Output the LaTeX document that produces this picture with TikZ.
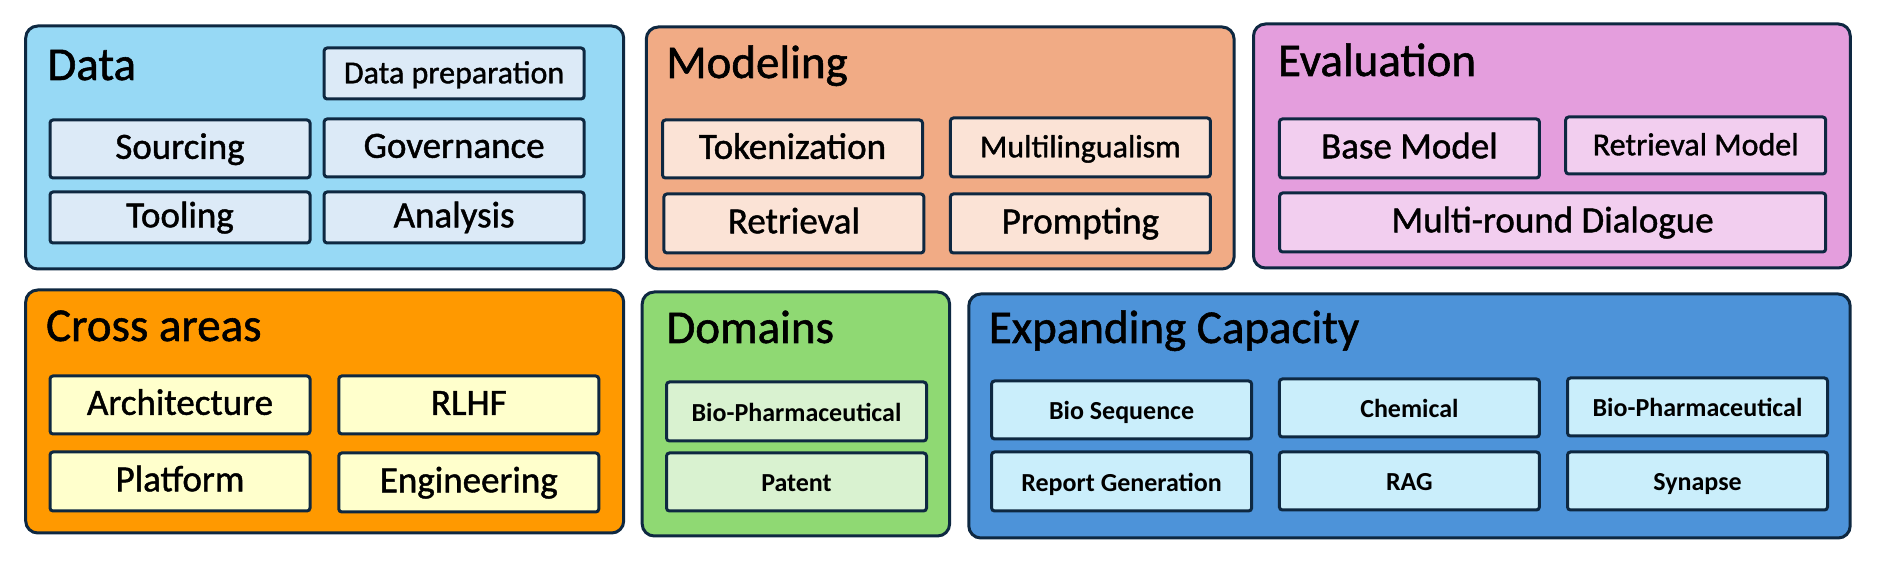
\documentclass[tikz,border=0pt]{standalone}
\usepackage{fontspec}
\setmainfont{Carlito}
\newfontfamily\medfont{Carlito}[RawFeature={embolden=1.2}]
\definecolor{bordercol}{HTML}{0E2841}
\definecolor{dataO}{HTML}{97D9F5}
\definecolor{dataI}{HTML}{DCEAF7}
\definecolor{modO}{HTML}{F1AB85}
\definecolor{modI}{HTML}{FBE3D6}
\definecolor{evalO}{HTML}{E49EDD}
\definecolor{evalI}{HTML}{F2CEEF}
\definecolor{crossO}{HTML}{FF9900}
\definecolor{crossI}{HTML}{FFFFCC}
\definecolor{domO}{HTML}{8FD973}
\definecolor{domI}{HTML}{D9F2D0}
\definecolor{expO}{HTML}{4D93D9}
\definecolor{expI}{HTML}{CAEEFB}
\begin{document}
\begin{tikzpicture}[x=0.5pt,y=-0.5pt,
  outerbox/.style={draw=bordercol, line width=1.5pt, rounded corners=6pt, inner sep=0pt},
  innerbox/.style={draw=bordercol, line width=1.5pt, rounded corners=1.5pt, inner sep=0pt,
     minimum width=130pt, minimum height=29pt, text height=0.98em, text depth=0pt,
     font=\medfont\fontsize{18.5}{20}\selectfont},
  smalllbl/.style={font=\medfont\fontsize{16}{18}\selectfont},
  boldlbl/.style={font=\fontsize{13}{15}\selectfont\bfseries},
  title/.style={anchor=base west, inner sep=0pt, font=\medfont\fontsize{23.5}{26}\selectfont}]
\useasboundingbox (0,0) rectangle (1881,565);
% outer boxes
\node[outerbox, fill=dataO, minimum width=299pt, minimum height=121.5pt] (data) at (324.7,147.5) {};
\node[outerbox, fill=modO, minimum width=293.9pt, minimum height=121pt] (modeling) at (940.2,148) {};
\node[outerbox, fill=evalO, minimum width=298.4pt, minimum height=122pt] (evaluation) at (1551.9,146) {};
\node[outerbox, fill=crossO, minimum width=299pt, minimum height=121.5pt] (cross) at (324.7,411.5) {};
\node[outerbox, fill=domO, minimum width=153.7pt, minimum height=122pt] (domains) at (795.9,414) {};
\node[outerbox, fill=expO, minimum width=440.7pt, minimum height=122pt] (expanding) at (1409.5,416) {};
% titles
\node[title] (tdata) at (47,80) {Data};
\node[title] (tmod) at (666,78) {Modeling};
\node[title] (teval) at (1277.6,76) {Evaluation};
\node[title] (tcross) at (45.7,341) {Cross areas};
\node[title] (tdom) at (666,343) {Domains};
\node[title] (texp) at (988.4,343) {Expanding Capacity};
% Data
\node[innerbox, fill=dataI, smalllbl, minimum height=25.5pt] (dprep) at (454.1,73.5) {Data preparation};
\node[innerbox, fill=dataI] (sourcing) at (180,149) {Sourcing};
\node[innerbox, fill=dataI] (governance) at (454.1,148) {Governance};
\node[innerbox, fill=dataI, minimum height=25.5pt] (tooling) at (180,217.5) {Tooling};
\node[innerbox, fill=dataI, minimum height=25.5pt] (analysis) at (454.1,217.5) {Analysis};
% Modeling
\node[innerbox, fill=modI] (tokenization) at (792.5,149) {Tokenization};
\node[innerbox, fill=modI, smalllbl, minimum height=29.5pt] (multiling) at (1080.4,147.5) {Multilingualism};
\node[innerbox, fill=modI, minimum height=29.5pt] (retrieval) at (793.9,223.5) {Retrieval};
\node[innerbox, fill=modI, minimum height=29.5pt] (prompting) at (1080.4,223.5) {Prompting};
% Evaluation
\node[innerbox, fill=evalI, minimum height=29.5pt] (basemodel) at (1409.4,148.5) {Base Model};
\node[innerbox, fill=evalI, smalllbl, minimum height=28.5pt] (retrmodel) at (1695.7,145.5) {Retrieval Model};
\node[innerbox, fill=evalI, minimum width=273pt, minimum height=29.5pt] (multiround) at (1552.7,222.5) {Multi-round Dialogue};
% Cross areas
\node[innerbox, fill=crossI] (arch) at (180,405) {Architecture};
\node[innerbox, fill=crossI] (rlhf) at (468.8,405) {RLHF};
\node[innerbox, fill=crossI, minimum height=29.5pt] (platform) at (180,481.5) {Platform};
\node[innerbox, fill=crossI, minimum height=29.5pt] (engineering) at (468.8,482.5) {Engineering};
% Domains
\node[innerbox, fill=domI, boldlbl, minimum height=29.5pt] (biopharm) at (796.5,411.5) {Bio-Pharmaceutical};
\node[innerbox, fill=domI, boldlbl] (patent) at (796.5,482) {Patent};
% Expanding Capacity
\node[innerbox, fill=expI, boldlbl] (bioseq) at (1121.6,410) {Bio Sequence};
\node[innerbox, fill=expI, boldlbl, minimum height=29.5pt] (reportgen) at (1121.6,481.5) {Report Generation};
\node[innerbox, fill=expI, boldlbl] (chemical) at (1409.4,408) {Chemical};
\node[innerbox, fill=expI, boldlbl] (biopharmb) at (1697.5,407) {Bio-Pharmaceutical};
\node[innerbox, fill=expI, boldlbl] (rag) at (1409.4,481) {RAG};
\node[innerbox, fill=expI, boldlbl] (synapse) at (1697.5,481) {Synapse};
\end{tikzpicture}
\end{document}
